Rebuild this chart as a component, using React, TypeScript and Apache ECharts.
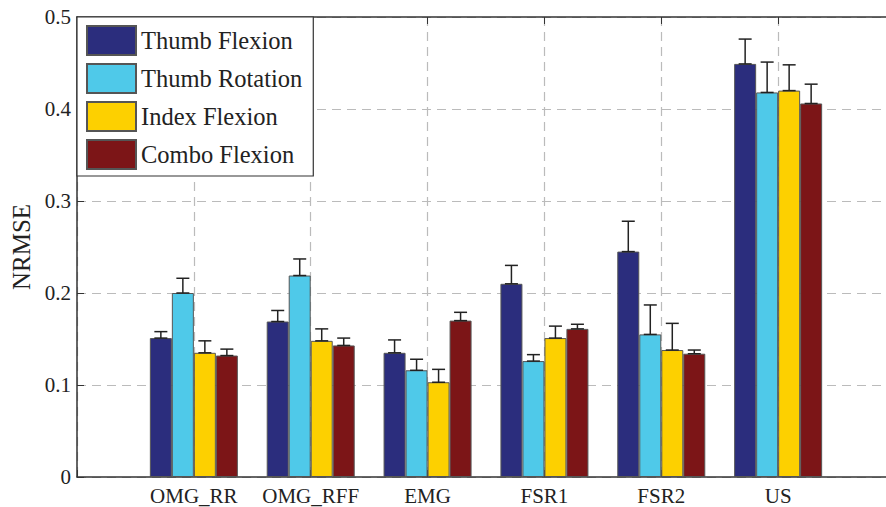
import React, { useEffect, useRef } from "react";
import * as echarts from "echarts";

const categories = ["OMG_RR", "OMG_RFF", "EMG", "FSR1", "FSR2", "US"];
const seriesNames = ["Thumb Flexion", "Thumb Rotation", "Index Flexion", "Combo Flexion"];
const thumbFlexion = [0.151, 0.169, 0.135, 0.210, 0.245, 0.449];
const thumbRotation = [0.200, 0.219, 0.116, 0.126, 0.155, 0.418];
const indexFlexion = [0.135, 0.148, 0.103, 0.151, 0.138, 0.420];
const comboFlexion = [0.132, 0.143, 0.170, 0.161, 0.134, 0.406];
const thumbFlexionErrTop = [0.158, 0.181, 0.149, 0.230, 0.278, 0.476];
const thumbRotationErrTop = [0.216, 0.237, 0.128, 0.133, 0.187, 0.451];
const indexFlexionErrTop = [0.148, 0.161, 0.117, 0.164, 0.167, 0.448];
const comboFlexionErrTop = [0.139, 0.151, 0.179, 0.166, 0.138, 0.427];

const colors = ["#2b2d7d", "#4fc9e9", "#fdd000", "#7c1517"];
const FONT = "Liberation Serif";
const BAR_W = 22;

export default function App() {
  const ref = useRef<HTMLDivElement>(null);
  useEffect(() => {
    if (!ref.current) return;
    const chart = echarts.init(ref.current, null, { renderer: "svg" });
    const values = [thumbFlexion, thumbRotation, indexFlexion, comboFlexion];
    const errs = [thumbFlexionErrTop, thumbRotationErrTop, indexFlexionErrTop, comboFlexionErrTop];
    const paddedCats = ["", ...categories, ""];
    const errData: number[][] = [];
    values.forEach((arr, s) => {
      arr.forEach((v, i) => errData.push([i + 1, s, v, errs[s][i]]));
    });
    const barSeries = values.map((arr, s) => ({
      name: seriesNames[s],
      type: "bar",
      barWidth: BAR_W,
      barGap: "0%",
      z: 2,
      itemStyle: { color: colors[s], borderColor: "#555", borderWidth: 1 },
      data: [null, ...arr, null],
    }));
    chart.setOption({
      animation: false,
      grid: {
        left: 77,
        top: 17,
        width: 818,
        height: 460,
        containLabel: false,
        outerBoundsMode: "none",
      },
      legend: {
        orient: "vertical",
        left: 77,
        top: 17,
        padding: [8, 11, 6, 9],
        itemWidth: 49,
        itemHeight: 29,
        itemGap: 7,
        icon: "rect",
        z: 10,
        backgroundColor: "#fff",
        borderColor: "#333",
        borderWidth: 1.2,
        borderRadius: 0,
        textStyle: { fontFamily: FONT, fontSize: 24.5, lineHeight: 29, color: "#222" },
        data: seriesNames,
      },
      graphic: [
        {
          type: "rect",
          z: 100,
          shape: { x: 0, y: 160, width: 75.5, height: 28 },
          style: { fill: "#fff" },
          silent: true,
        },
      ],
      xAxis: [
        {
          type: "category",
          data: paddedCats,
          boundaryGap: false,
          axisLine: { lineStyle: { color: "#333", width: 1.5 } },
          axisTick: { show: true, inside: true, length: 7, interval: 0, lineStyle: { color: "#333" } },
          axisLabel: { interval: 0, margin: 8, fontFamily: FONT, fontSize: 21, color: "#222" },
          splitLine: { show: true, interval: 0, lineStyle: { color: "#bbb", type: [9, 6], width: 1.2 } },
        },
        {
          type: "category",
          position: "top",
          data: paddedCats,
          boundaryGap: false,
          axisLine: { lineStyle: { color: "#333", width: 1.5 } },
          axisTick: { show: true, inside: true, length: 7, interval: 0, lineStyle: { color: "#333" } },
          axisLabel: { show: false },
          splitLine: { show: false },
        },
      ],
      yAxis: {
        type: "value",
        min: 0,
        max: 0.5,
        interval: 0.1,
        name: "NRMSE",
        nameLocation: "middle",
        nameGap: 42,
        nameTextStyle: { fontFamily: FONT, fontSize: 25, color: "#222" },
        axisLine: { show: true, lineStyle: { color: "#333", width: 1.5 } },
        axisTick: { show: true, inside: true, length: 7, lineStyle: { color: "#333" } },
        axisLabel: {
          margin: 6,
          fontFamily: FONT,
          fontSize: 21,
          color: "#222",
          formatter: (v: number) => (v === 0 ? "0" : v.toFixed(1)),
        },
        splitLine: { show: true, lineStyle: { color: "#bbb", type: [9, 6], width: 1.2 } },
      },
      series: [
        ...barSeries,
        {
          type: "custom",
          z: 3,
          silent: true,
          encode: { x: 0, y: 3 },
          data: errData,
          renderItem: (params: any, api: any) => {
            const cat = api.value(0);
            const s = api.value(1);
            const v = api.value(2);
            const e = api.value(3);
            const p0 = api.coord([cat, v]);
            const p1 = api.coord([cat, e]);
            const x = p0[0] + (s - 1.5) * BAR_W;
            const hw = 6.5;
            const style = { stroke: "#222", lineWidth: 1.5 };
            return {
              type: "group",
              children: [
                { type: "line", shape: { x1: x, y1: p0[1], x2: x, y2: p1[1] }, style },
                { type: "line", shape: { x1: x - hw, y1: p1[1], x2: x + hw, y2: p1[1] }, style },
                { type: "line", shape: { x1: x - hw, y1: p0[1], x2: x + hw, y2: p0[1] }, style },
              ],
            };
          },
        },
      ],
    });
    return () => chart.dispose();
  }, []);
  return (
    <div
      ref={ref}
      style={{ position: "fixed", left: 0, top: 0, width: 886, height: 507, background: "#fff" }}
    />
  );
}
